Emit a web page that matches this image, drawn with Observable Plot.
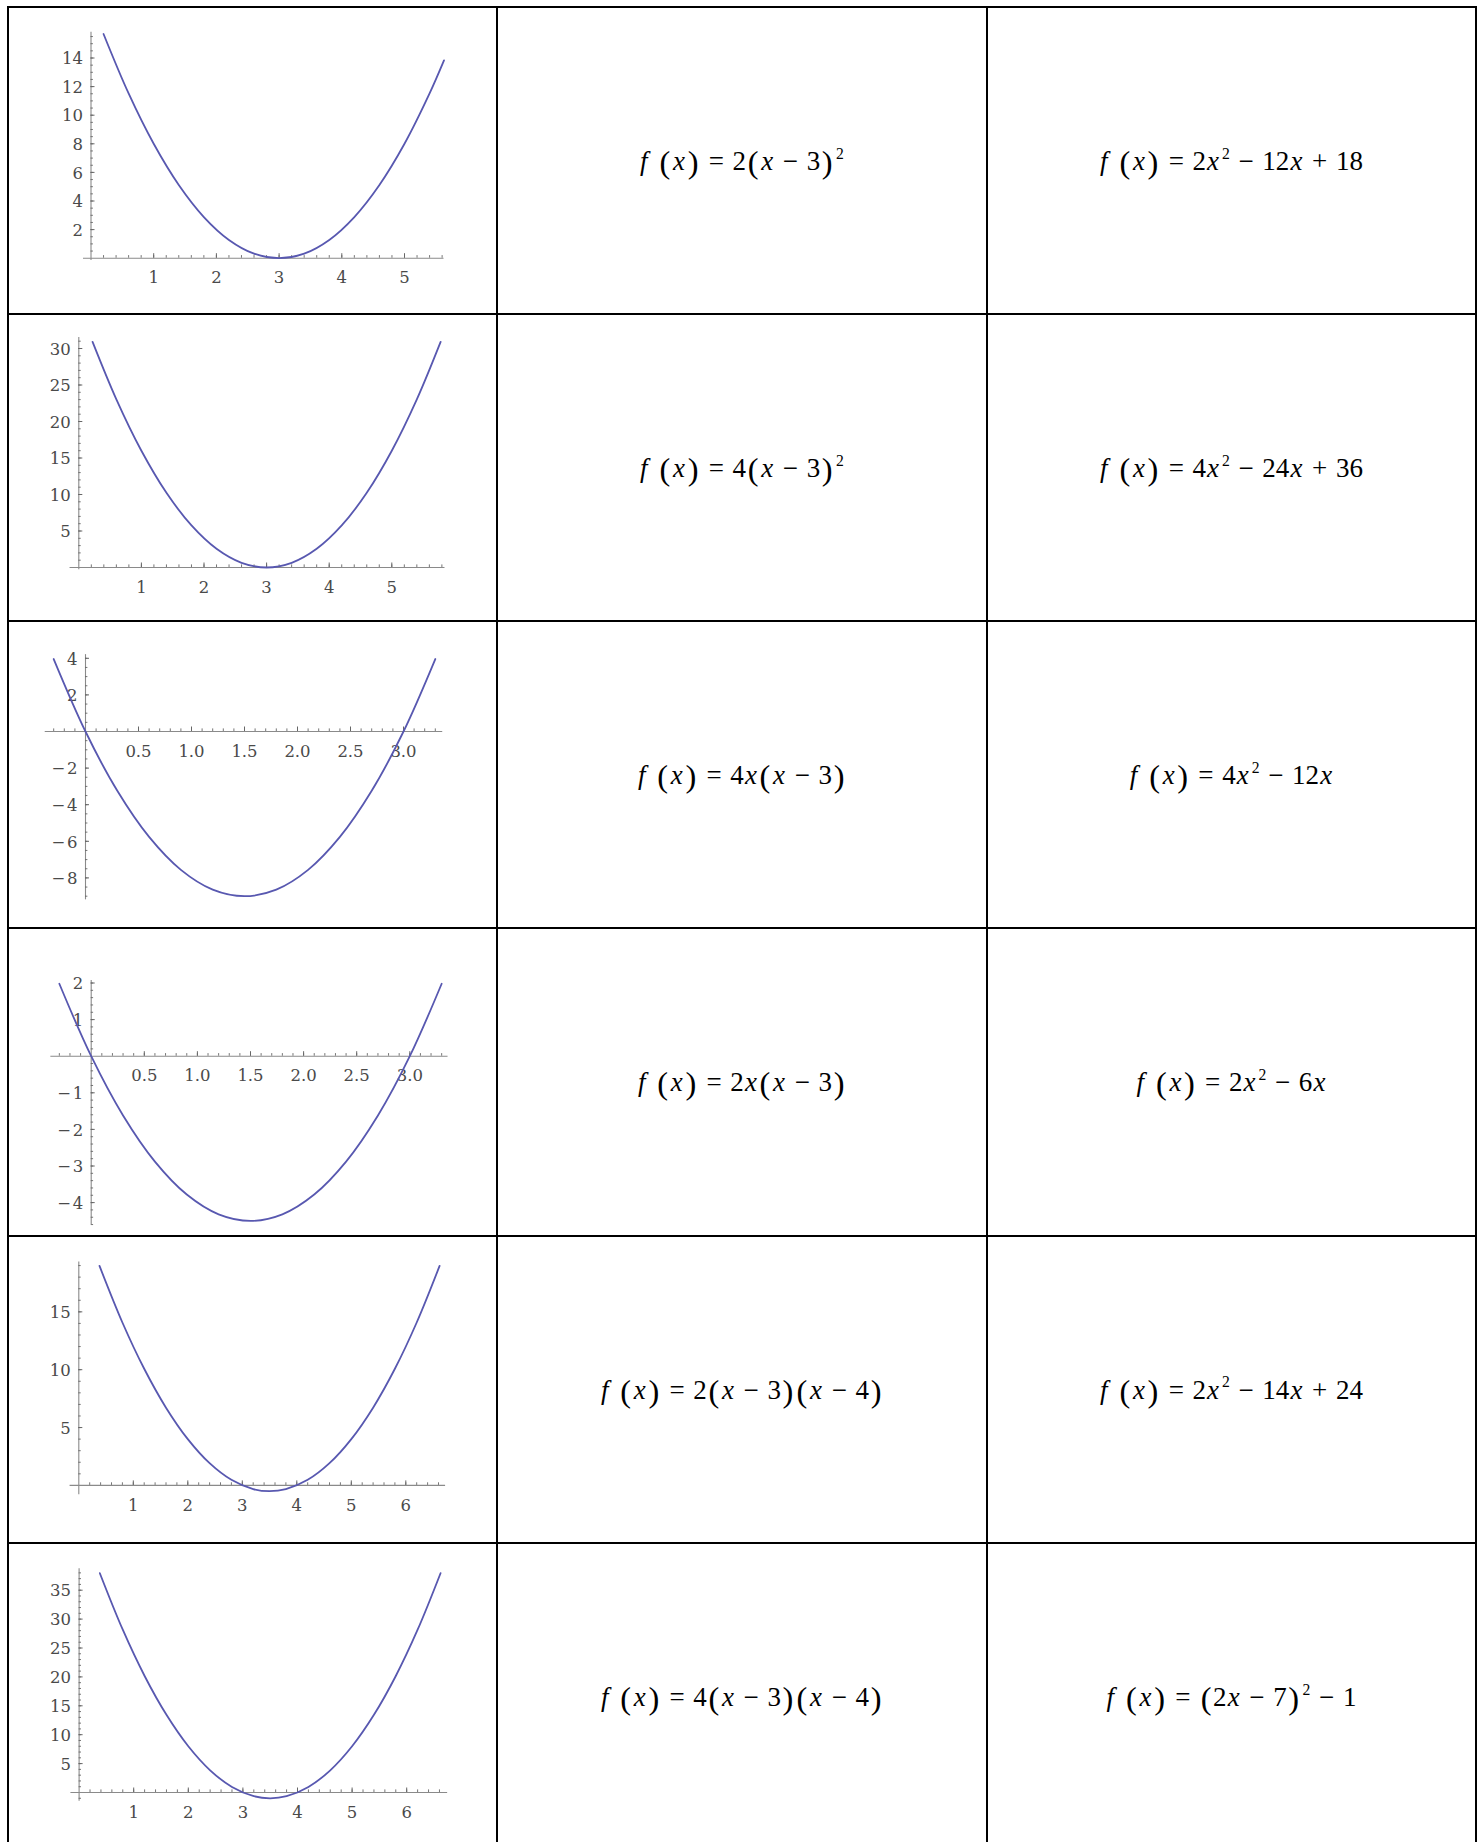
<!DOCTYPE html>
<html><head><meta charset="utf-8">
<script src="https://cdn.jsdelivr.net/npm/d3@7"></script>
<script src="https://cdn.jsdelivr.net/npm/@observablehq/plot@0.6"></script>
<style>
body{margin:0;background:#fff;}
#page{position:relative;width:1483px;height:1842px;overflow:hidden;background:#fff;}
.hl{position:absolute;background:#000;height:2px;}
.vl{position:absolute;background:#000;width:2px;}
.cell{position:absolute;display:flex;align-items:center;justify-content:center;}
.formula{font-family:'Liberation Serif','Times New Roman',serif;font-size:27px;color:#000;white-space:nowrap;line-height:1;position:relative;top:1px;}
.v{font-style:italic;}
.vx{margin:0 0.04em;}
.p{font-size:1.2em;line-height:0;position:relative;top:0.09em;margin:0 0.05em;}
.op{margin:0 0.32em;}
.sp{display:inline-block;width:0.38em;}
.sup{font-size:0.58em;position:relative;top:-0.72em;margin-left:0.12em;}
.plotcell{position:absolute;left:0;width:497px;height:307px;}
.plotcell svg{overflow:visible;}
</style>
</head><body>
<div id="page"></div>
<script>
// ---------- data ----------
// Row 1: f(x) = 2(x-3)^2
const curveX1 = [0.2, 0.6, 1.0, 1.4, 1.8, 2.2, 2.6, 3.0, 3.4, 3.8, 4.2, 4.6, 5.0, 5.4, 5.63];
const curveY1 = [15.68, 11.52, 8, 5.12, 2.88, 1.28, 0.32, 0, 0.32, 1.28, 2.88, 5.12, 8, 11.52, 13.83];
// Row 2: f(x) = 4(x-3)^2
const curveX2 = [0.22, 0.6, 1.0, 1.4, 1.8, 2.2, 2.6, 3.0, 3.4, 3.8, 4.2, 4.6, 5.0, 5.4, 5.78];
const curveY2 = [30.91, 23.04, 16, 10.24, 5.76, 2.56, 0.64, 0, 0.64, 2.56, 5.76, 10.24, 16, 23.04, 30.91];
// Row 3: f(x) = 4x(x-3)
const curveX3 = [-0.3, 0, 0.3, 0.6, 0.9, 1.2, 1.5, 1.8, 2.1, 2.4, 2.7, 3.0, 3.3];
const curveY3 = [3.96, 0, -3.24, -5.76, -7.56, -8.64, -9, -8.64, -7.56, -5.76, -3.24, 0, 3.96];
// Row 4: f(x) = 2x(x-3)
const curveX4 = [-0.3, 0, 0.3, 0.6, 0.9, 1.2, 1.5, 1.8, 2.1, 2.4, 2.7, 3.0, 3.3];
const curveY4 = [1.98, 0, -1.62, -2.88, -3.78, -4.32, -4.5, -4.32, -3.78, -2.88, -1.62, 0, 1.98];
// Row 5: f(x) = 2(x-3)(x-4)
const curveX5 = [0.38, 0.8, 1.2, 1.6, 2.0, 2.4, 2.8, 3.2, 3.5, 3.8, 4.2, 4.6, 5.0, 5.4, 5.8, 6.2, 6.62];
const curveY5 = [18.97, 14.08, 10.08, 6.72, 4, 1.92, 0.48, -0.32, -0.5, -0.32, 0.48, 1.92, 4, 6.72, 10.08, 14.08, 18.97];
// Row 6: f(x) = 4(x-3)(x-4)
const curveX6 = [0.38, 0.8, 1.2, 1.6, 2.0, 2.4, 2.8, 3.2, 3.5, 3.8, 4.2, 4.6, 5.0, 5.4, 5.8, 6.2, 6.62];
const curveY6 = [37.94, 28.16, 20.16, 13.44, 8, 3.84, 0.96, -0.64, -1, -0.64, 0.96, 3.84, 8, 13.44, 20.16, 28.16, 37.94];

// tick values and labels
const xTicks1 = [1, 2, 3, 4, 5];            const xTickLabels1 = ["1", "2", "3", "4", "5"];
const yTicks1 = [2, 4, 6, 8, 10, 12, 14];   const yTickLabels1 = ["2", "4", "6", "8", "10", "12", "14"];
const xTicks2 = [1, 2, 3, 4, 5];            const xTickLabels2 = ["1", "2", "3", "4", "5"];
const yTicks2 = [5, 10, 15, 20, 25, 30];    const yTickLabels2 = ["5", "10", "15", "20", "25", "30"];
const xTicks3 = [0.5, 1, 1.5, 2, 2.5, 3];   const xTickLabels3 = ["0.5", "1.0", "1.5", "2.0", "2.5", "3.0"];
const yTicks3 = [-8, -6, -4, -2, 2, 4];     const yTickLabels3 = ["\u2212\u200A8", "\u2212\u200A6", "\u2212\u200A4", "\u2212\u200A2", "2", "4"];
const xTicks4 = [0.5, 1, 1.5, 2, 2.5, 3];   const xTickLabels4 = ["0.5", "1.0", "1.5", "2.0", "2.5", "3.0"];
const yTicks4 = [-4, -3, -2, -1, 1, 2];     const yTickLabels4 = ["\u2212\u200A4", "\u2212\u200A3", "\u2212\u200A2", "\u2212\u200A1", "1", "2"];
const xTicks5 = [1, 2, 3, 4, 5, 6];         const xTickLabels5 = ["1", "2", "3", "4", "5", "6"];
const yTicks5 = [5, 10, 15];                const yTickLabels5 = ["5", "10", "15"];
const xTicks6 = [1, 2, 3, 4, 5, 6];         const xTickLabels6 = ["1", "2", "3", "4", "5", "6"];
const yTicks6 = [5, 10, 15, 20, 25, 30, 35]; const yTickLabels6 = ["5", "10", "15", "20", "25", "30", "35"];
const xMinorSteps = [0.2, 0.2, 0.1, 0.1, 0.2, 0.2];
const yMinorSteps = [0.5, 1, 0.5, 0.2, 1, 1];
// axis extents (data units)
const xAxisExtents = [[-0.12, 5.63], [-0.14, 5.85], [-0.38, 3.37], [-0.38, 3.36], [-0.16, 6.73], [-0.15, 6.75]];
const yAxisExtents = [[-0.16, 15.8], [-0.3, 31.5], [-9.2, 4.2], [-4.6, 2.07], [-0.8, 19.3], [-1.5, 38.7]];

// formulas
const factoredForms = ["f (x)=2(x\u22123)^2", "f (x)=4(x\u22123)^2", "f (x)=4x(x\u22123)", "f (x)=2x(x\u22123)", "f (x)=2(x\u22123)(x\u22124)", "f (x)=4(x\u22123)(x\u22124)"];
const expandedForms = ["f (x)=2x^2\u221212x+18", "f (x)=4x^2\u221224x+36", "f (x)=4x^2\u221212x", "f (x)=2x^2\u22126x", "f (x)=2x^2\u221214x+24", "f (x)=(2x\u22127)^2\u22121"];

// ---------- layout (styles / positions) ----------
const rowLines = [7, 314, 621, 928, 1235.5, 1543, 1850];
const colLines = [8.3, 497, 987, 1476];
const frames = [
  {x0: 90.5, kx: 62.7, y0: 257.7, ky: 14.3},
  {x0: 78.3, kx: 62.6, y0: 567.0, ky: 7.3},
  {x0: 85.0, kx: 106.0, y0: 731.0, ky: 18.3},
  {x0: 90.7, kx: 106.2, y0: 1055.7, ky: 36.6},
  {x0: 78.3, kx: 54.5, y0: 1484.4, ky: 11.57},
  {x0: 78.6, kx: 54.6, y0: 1792.0, ky: 5.78}
];
const curveColor = "#5858b0", axisColor = "#8a8a8a", tickColor = "#666", labelColor = "#4a4a4a";
const labelFont = "DejaVu Serif";

const curvesX = [curveX1, curveX2, curveX3, curveX4, curveX5, curveX6];
const curvesY = [curveY1, curveY2, curveY3, curveY4, curveY5, curveY6];
const xTicks = [xTicks1, xTicks2, xTicks3, xTicks4, xTicks5, xTicks6];
const xTickLabels = [xTickLabels1, xTickLabels2, xTickLabels3, xTickLabels4, xTickLabels5, xTickLabels6];
const yTicks = [yTicks1, yTicks2, yTicks3, yTicks4, yTicks5, yTicks6];
const yTickLabels = [yTickLabels1, yTickLabels2, yTickLabels3, yTickLabels4, yTickLabels5, yTickLabels6];

const page = document.getElementById("page");

// table lines
for (let i = 0; i < rowLines.length - 1; i++) {
  const d = document.createElement("div");
  d.className = "hl";
  d.style.top = (rowLines[i] - 1) + "px";
  d.style.left = (colLines[0] - 1) + "px";
  d.style.width = (colLines[colLines.length - 1] - colLines[0] + 2) + "px";
  page.appendChild(d);
}
for (const x of colLines) {
  const d = document.createElement("div");
  d.className = "vl";
  d.style.left = (x - 1) + "px";
  d.style.top = (rowLines[0] - 1) + "px";
  d.style.height = (1842 - rowLines[0] + 1) + "px";
  page.appendChild(d);
}

function minorTicks(ext, step) {
  const out = [];
  const start = Math.ceil(ext[0] / step - 1e-9);
  const end = Math.floor(ext[1] / step + 1e-9);
  for (let k = start; k <= end; k++) {
    const v = Math.round(k * step * 1000) / 1000;
    if (v !== 0) out.push(v);
  }
  return out;
}

function makePlot(i) {
  const F = frames[i];
  const top = rowLines[i];
  const xd = xAxisExtents[i], yd = yAxisExtents[i];
  const xr = [F.x0 + xd[0] * F.kx, F.x0 + xd[1] * F.kx];
  const yr = [F.y0 - top - yd[0] * F.ky, F.y0 - top - yd[1] * F.ky];
  const xMin = minorTicks(xd, xMinorSteps[i]);
  const yMin = minorTicks(yd, yMinorSteps[i]);
  const pts = curvesX[i].map((x, j) => ({x, y: curvesY[i][j]}));
  const xl = xTicks[i].map((v, j) => ({v, t: xTickLabels[i][j]}));
  const yl = yTicks[i].map((v, j) => ({v, t: yTickLabels[i][j]}));
  return Plot.plot({
    width: 497,
    height: 307,
    x: {domain: xd, range: xr, axis: null},
    y: {domain: yd, range: yr, axis: null},
    style: {background: "transparent", overflow: "visible", fontFamily: labelFont},
    marks: [
      Plot.ruleY([0], {x1: xd[0], x2: xd[1], stroke: axisColor, strokeWidth: 1.1}),
      Plot.ruleX([0], {y1: yd[0], y2: yd[1], stroke: axisColor, strokeWidth: 1.1}),
      Plot.ruleX(xMin, {x: d => d, y1: 0, y2: 2.6 / F.ky, stroke: tickColor, strokeWidth: 0.9}),
      Plot.ruleX(xTicks[i], {x: d => d, y1: 0, y2: 4.5 / F.ky, stroke: tickColor, strokeWidth: 1}),
      Plot.ruleY(yMin, {y: d => d, x1: 0, x2: 2.4 / F.kx, stroke: tickColor, strokeWidth: 0.9}),
      Plot.ruleY(yTicks[i], {y: d => d, x1: 0, x2: 4 / F.kx, stroke: tickColor, strokeWidth: 1}),
      Plot.text(xl, {x: "v", y: 0, text: "t", dy: 20, fill: labelColor, fontSize: 16.5, fontFamily: labelFont}),
      Plot.text(yl, {x: 0, y: "v", text: "t", dx: -8, dy: 1, textAnchor: "end", fill: labelColor, fontSize: 16.5, fontFamily: labelFont}),
      Plot.line(pts, {x: "x", y: "y", curve: "catmull-rom", stroke: curveColor, strokeWidth: 1.8})
    ]
  });
}

function formulaHTML(s) {
  let out = "";
  for (let k = 0; k < s.length; k++) {
    const c = s[k];
    if (c === "f") out += '<span class="v">f</span>';
    else if (c === "x") out += '<span class="v vx">x</span>';
    else if (c === "(" || c === ")") out += '<span class="p">' + c + '</span>';
    else if (c === "^") { out += '<span class="sup">' + s[++k] + '</span>'; }
    else if (c === "=" || c === "\u2212" || c === "+") out += '<span class="op">' + c + '</span>';
    else if (c === " ") out += '<span class="sp"></span>';
    else out += c;
  }
  return out;
}

for (let i = 0; i < 6; i++) {
  const top = rowLines[i], h = rowLines[i + 1] - rowLines[i];
  const pc = document.createElement("div");
  pc.className = "plotcell";
  pc.style.top = top + "px";
  pc.appendChild(makePlot(i));
  page.appendChild(pc);

  [factoredForms[i], expandedForms[i]].forEach((f, c) => {
    const cell = document.createElement("div");
    cell.className = "cell";
    cell.style.left = colLines[c + 1] + "px";
    cell.style.width = (colLines[c + 2] - colLines[c + 1]) + "px";
    cell.style.top = top + "px";
    cell.style.height = h + "px";
    const fd = document.createElement("div");
    fd.className = "formula";
    fd.innerHTML = formulaHTML(f);
    cell.appendChild(fd);
    page.appendChild(cell);
  });
}
</script>
</body></html>
